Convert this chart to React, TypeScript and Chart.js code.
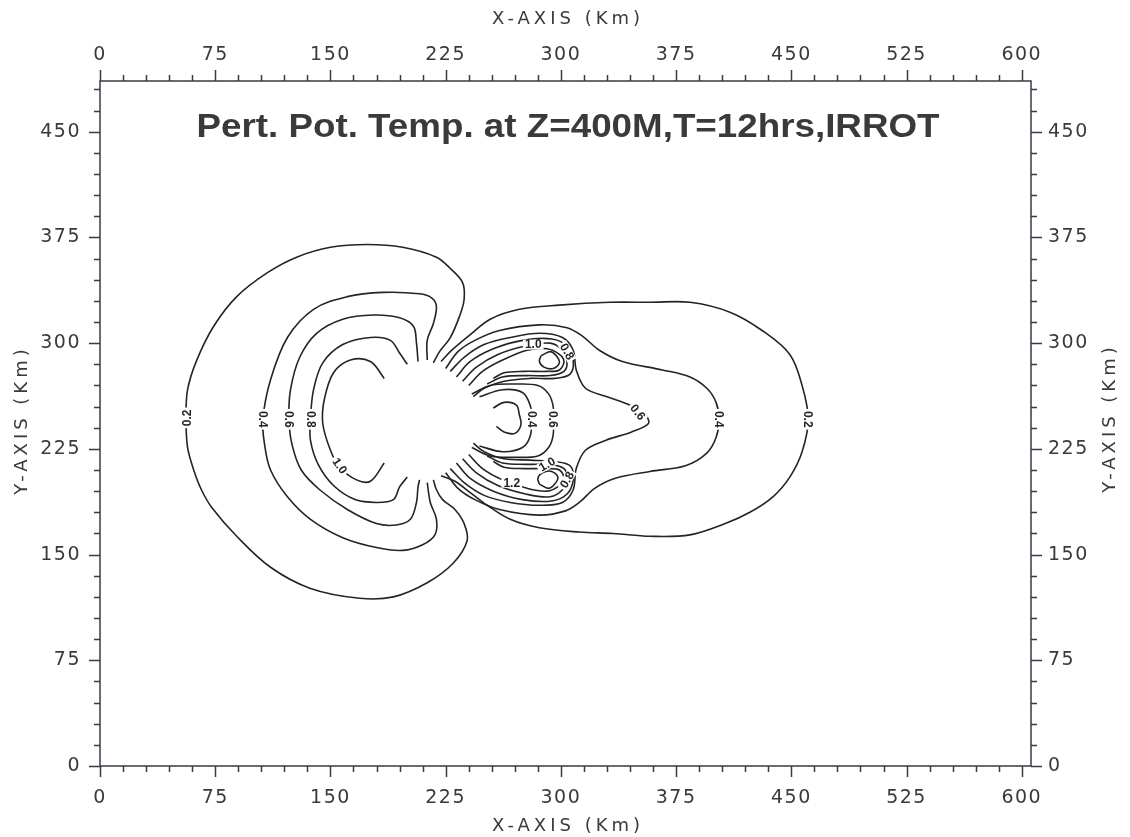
import React, { useEffect, useRef } from 'react';
import { Chart, registerables } from 'chart.js';

Chart.register(...registerables);

// ---- axes ----
const X_MIN = 0;
const X_MAX = 606;
const Y_MIN = 0;
const Y_MAX = 486;
const MAJOR_STEP = 75;
const MINOR_STEP = 15;
const X_LABELS = [0, 75, 150, 225, 300, 375, 450, 525, 600];
const Y_LABELS = [0, 75, 150, 225, 300, 375, 450];

const TITLE = 'Pert. Pot. Temp. at Z=400M,T=12hrs,IRROT';
const X_TITLE = 'X-AXIS (Km)';
const Y_TITLE = 'Y-AXIS (Km)';

// ---- contour lines (km) ----
const C02_LEFT = [
  [217, 286], [221, 294], [228, 304], [234, 319], [237, 331], [236, 343], [228, 353], [219, 361],
  [197, 368], [174, 370], [150, 368], [128, 361], [109, 350], [89, 333], [74, 312], [63, 288],
  [57, 267], [56, 246], [57, 226], [61, 210], [66, 196], [73, 183], [89, 163], [111, 141],
  [137, 126], [169, 119], [191, 120], [213, 130], [230, 144], [239, 160], [237, 172], [231, 182],
  [223, 189], [219, 196], [217, 203],
];
const C04_LEFT = [
  [213, 288], [213, 302], [217, 314], [219, 326], [216, 332], [208, 335], [184, 336], [161, 333],
  [139, 324], [122, 304], [111, 274], [106, 246], [107, 229], [111, 210], [122, 191], [137, 175],
  [158, 162], [180, 155], [197, 153], [210, 157], [218, 164], [219, 175], [215, 187], [213, 201],
];
const C06_LEFT = [
  [207, 287], [206, 300], [204, 312], [195, 318], [178, 320], [158, 317], [141, 307], [130, 290],
  [124, 267], [123, 246], [125, 228], [131, 210], [143, 196], [161, 182], [180, 172], [193, 171],
  [202, 175], [206, 187], [207, 198], [208, 203],
];
const C08_LEFT = [
  [200, 285], [195, 293], [189, 302], [176, 304], [158, 299], [145, 286], [139, 267], [137, 246],
  [137, 231], [142, 214], [152, 199], [166, 189], [180, 187], [191, 189], [195, 198], [200, 205],
];
const C10_LEFT = [
  [185, 275], [176, 287], [163, 288], [152, 279], [146, 260], [145, 243], [150, 224], [156, 212],
  [167, 203], [176, 202], [185, 215],
];
const C02_RIGHT = [
  [222, 287], [229, 295], [241, 306], [254, 317], [273, 324], [299, 327], [332, 329], [358, 329],
  [384, 329], [410, 322], [431, 309], [449, 292], [457, 270], [461, 246], [457, 223], [449, 205],
  [438, 191], [423, 180], [407, 172], [384, 164], [358, 163], [334, 165], [312, 166], [286, 169],
  [267, 175], [252, 185], [241, 194], [231, 202], [222, 206],
];
const C04_RIGHT = [
  [225, 282], [233, 294], [244, 302], [260, 309], [286, 313], [304, 311], [314, 305], [325, 295],
  [340, 287], [366, 281], [384, 276], [395, 268], [401, 258], [403, 246], [401, 233], [395, 222],
  [381, 213], [358, 209], [335, 204], [322, 197], [312, 187], [303, 181], [286, 178], [260, 182],
  [244, 189], [233, 197], [225, 208],
];
const C06_RIGHT = [
  [228, 280], [237, 290], [250, 299], [267, 304], [286, 307], [301, 304], [308, 295], [310, 281],
  [316, 268], [330, 262], [345, 256], [355, 249], [357, 243], [346, 237], [329, 231], [316, 224],
  [310, 211], [308, 196], [301, 187], [286, 185], [267, 187], [250, 192], [237, 201], [228, 211],
];
const C08_UPPER = [
  [232, 276], [241, 287], [256, 296], [275, 302], [294, 303], [304, 298], [308, 288], [306, 278],
  [296, 275], [280, 275], [263, 273], [250, 268], [243, 262],
];
const C10_UPPER = [
  [236, 273], [245, 283], [259, 292], [277, 298], [293, 300], [301, 295], [304, 287], [302, 280],
  [293, 277], [278, 277], [262, 276], [252, 271],
];
const C12_UPPER = [
  [240, 270], [249, 280], [262, 288], [278, 295], [291, 296], [299, 292], [302, 287], [299, 281],
  [291, 280], [276, 280], [263, 279], [256, 275],
];
const CORE_UPPER = [
  [287, 291], [293, 294], [297, 291], [299, 286], [295, 282], [289, 283], [286, 287], [287, 291],
];
const C08_LOWER = [
  [232, 215], [241, 204], [256, 195], [275, 189], [294, 188], [304, 193], [308, 203], [306, 213],
  [296, 216], [280, 217], [263, 218], [250, 223], [243, 229],
];
const C10_LOWER = [
  [236, 218], [245, 208], [259, 199], [277, 193], [293, 191], [301, 196], [304, 204], [302, 211],
  [293, 214], [278, 214], [262, 215], [252, 220],
];
const C12_LOWER = [
  [240, 221], [249, 211], [262, 203], [278, 197], [291, 195], [299, 199], [302, 204], [299, 210],
  [291, 211], [276, 211], [263, 212], [256, 216],
];
const CORE_LOWER = [
  [286, 200], [292, 197], [296, 200], [298, 205], [294, 209], [288, 208], [285, 204], [286, 200],
];
const C06_CENTER = [
  [242, 264], [254, 270], [270, 271], [285, 270], [292, 264], [295, 255], [295, 246], [295, 235],
  [292, 226], [285, 220], [270, 219], [254, 220], [242, 226],
];
const C04_CENTER = [
  [247, 262], [262, 267], [275, 265], [280, 256], [281, 246], [280, 234], [275, 226], [262, 223],
  [247, 227],
];
const MIN_LOOP = [
  [256, 254], [263, 258], [271, 256], [273, 249], [274, 242], [270, 236], [263, 237], [258, 241],
];

const CONTOURS = [
  C02_LEFT, C04_LEFT, C06_LEFT, C08_LEFT, C10_LEFT,
  C02_RIGHT, C04_RIGHT, C06_RIGHT,
  C08_UPPER, C10_UPPER, C12_UPPER, CORE_UPPER,
  C08_LOWER, C10_LOWER, C12_LOWER, CORE_LOWER,
  C06_CENTER, C04_CENTER, MIN_LOOP,
];

// contour labels: [x, y, text, rotation deg]
const CONTOUR_LABELS: [number, number, string, number][] = [
  [57, 247, '0.2', -90],
  [106, 246, '0.4', 90],
  [123, 246, '0.6', 90],
  [137, 246, '0.8', 90],
  [156, 213, '1.0', 55],
  [461, 246, '0.2', 90],
  [403, 246, '0.4', 90],
  [350, 251, '0.6', 50],
  [281, 246, '0.4', 90],
  [295, 246, '0.6', 90],
  [282, 299, '1.0', 0],
  [304, 294, '0.8', 60],
  [291, 214, '1.0', -30],
  [304, 203, '0.8', -60],
  [268, 201, '1.2', 0],
];

const LINE_COLOR = '#242424';
const TEXT_COLOR = '#3a3a3a';

const decorPlugin = {
  id: 'decor',
  beforeDraw(chart: any) {
    chart.ctx.letterSpacing = '1.5px';
  },
  afterDatasetsDraw(chart: any) {
    const ctx = chart.ctx;
    const xs = chart.scales.x;
    const ys = chart.scales.y;
    ctx.save();
    ctx.letterSpacing = '0px';
    ctx.font = 'bold 12px "Liberation Sans"';
    ctx.textAlign = 'center';
    ctx.textBaseline = 'middle';
    for (const [x, y, t, r] of CONTOUR_LABELS) {
      const px = xs.getPixelForValue(x);
      const py = ys.getPixelForValue(y);
      ctx.save();
      ctx.translate(px, py);
      ctx.rotate((r * Math.PI) / 180);
      const w = ctx.measureText(t).width;
      ctx.fillStyle = '#ffffff';
      ctx.fillRect(-w / 2 - 2, -5, w + 4, 10);
      ctx.fillStyle = LINE_COLOR;
      ctx.fillText(t, 0, 0.5);
      ctx.restore();
    }
    ctx.restore();
  },
  afterDraw(chart: any) {
    const ctx = chart.ctx;
    const { left, right, top, bottom } = chart.chartArea;
    const xs = chart.scales.x;
    const ys = chart.scales.y;
    ctx.save();
    ctx.strokeStyle = '#3a3a48';
    ctx.lineWidth = 1.5;
    ctx.strokeRect(left, top, right - left, bottom - top);
    ctx.beginPath();
    for (let v = X_MIN; v <= 600; v += MINOR_STEP) {
      const px = Math.round(xs.getPixelForValue(v)) + 0.5;
      const len = v % MAJOR_STEP === 0 ? 11 : 6;
      ctx.moveTo(px, bottom);
      ctx.lineTo(px, bottom + len);
      ctx.moveTo(px, top);
      ctx.lineTo(px, top - len);
    }
    for (let v = Y_MIN; v <= Y_MAX; v += MINOR_STEP) {
      const py = Math.round(ys.getPixelForValue(v)) + 0.5;
      const len = v % MAJOR_STEP === 0 ? 11 : 6;
      ctx.moveTo(left, py);
      ctx.lineTo(left - len, py);
      ctx.moveTo(right, py);
      ctx.lineTo(right + len, py);
    }
    ctx.stroke();

    // chart title inside plot
    ctx.fillStyle = TEXT_COLOR;
    ctx.letterSpacing = '0px';
    ctx.font = 'bold 33px "Liberation Sans"';
    ctx.textBaseline = 'alphabetic';
    ctx.textAlign = 'center';
    const tw = ctx.measureText(TITLE).width;
    ctx.save();
    ctx.translate(568, 137);
    ctx.scale(743 / tw, 1);
    ctx.fillText(TITLE, 0, 0);
    ctx.restore();

    // axis titles
    ctx.font = '18px "DejaVu Sans"';
    ctx.letterSpacing = '4px';
    ctx.textBaseline = 'middle';
    ctx.fillText(X_TITLE, 568, 19);
    ctx.fillText(X_TITLE, 568, 826);
    ctx.save();
    ctx.translate(22, 420);
    ctx.rotate(-Math.PI / 2);
    ctx.fillText(Y_TITLE, 0, 0);
    ctx.restore();
    ctx.save();
    ctx.translate(1110, 418);
    ctx.rotate(-Math.PI / 2);
    ctx.fillText(Y_TITLE, 0, 0);
    ctx.restore();
    ctx.restore();
  },
};

const tickFont = { family: 'DejaVu Sans', size: 19 };

function makeScale(position: string, labels: number[], min: number, max: number, size: number, padding: number) {
  const horizontal = position === 'top' || position === 'bottom';
  return {
    type: 'linear',
    position,
    min,
    max,
    grid: { display: false, drawTicks: false, tickLength: 0 },
    border: { display: false },
    afterBuildTicks: (s: any) => {
      s.ticks = labels.map((v) => ({ value: v }));
    },
    afterFit: (s: any) => {
      if (horizontal) s.height = size;
      else s.width = size;
    },
    ticks: {
      autoSkip: false,
      maxRotation: 0,
      minRotation: 0,
      padding,
      color: TEXT_COLOR,
      font: tickFont,
      callback: (v: any) => String(v),
    },
  };
}

export default function App() {
  const canvasRef = useRef<HTMLCanvasElement | null>(null);

  useEffect(() => {
    if (!canvasRef.current) return;
    const datasets = CONTOURS.map((c) => ({
      data: c.map(([x, y]) => ({ x, y })),
      showLine: true,
      borderColor: LINE_COLOR,
      borderWidth: 1.6,
      pointRadius: 0,
      pointHoverRadius: 0,
      tension: 0.35,
      fill: false,
    }));
    const chart = new Chart(canvasRef.current, {
      type: 'scatter',
      data: { datasets },
      options: {
        animation: false,
        responsive: false,
        events: [],
        layout: { padding: 0 },
        plugins: { legend: { display: false }, tooltip: { enabled: false }, title: { display: false } },
        scales: {
          x: makeScale('bottom', X_LABELS, X_MIN, X_MAX, 71, 21),
          x2: makeScale('top', X_LABELS, X_MIN, X_MAX, 81, 15),
          y: makeScale('left', Y_LABELS, Y_MIN, Y_MAX, 100, 19),
          y2: makeScale('right', Y_LABELS, Y_MIN, Y_MAX, 99, 17),
        },
      } as any,
      plugins: [decorPlugin as any],
    });
    return () => chart.destroy();
  }, []);

  return (
    <div style={{ position: 'absolute', left: 0, top: 0, width: 1130, height: 837, background: '#ffffff' }}>
      <canvas ref={canvasRef} width={1130} height={837} style={{ display: 'block' }} />
    </div>
  );
}
